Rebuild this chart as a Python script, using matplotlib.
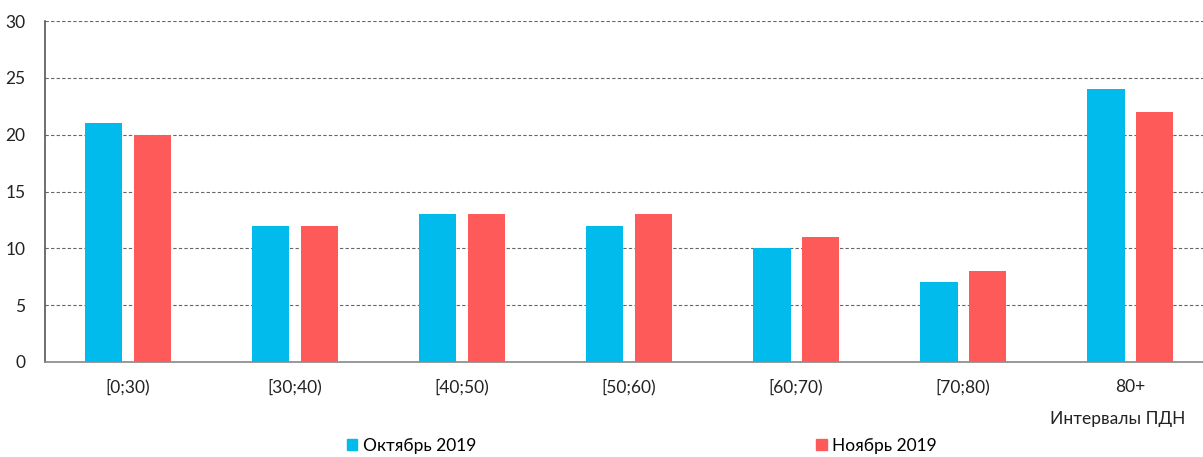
import numpy as np
import matplotlib.pyplot as plt
from matplotlib.patches import Patch

categories = ["[0;30)", "[30;40)", "[40;50)", "[50;60)", "[60;70)", "[70;80)", "80+"]
oct_values = [21, 12, 13, 12, 10, 7, 24]
nov_values = [20, 12, 13, 13, 11, 8, 22]
series_names = ["Октябрь 2019", "Ноябрь 2019"]

c_oct = "#00BBEC"
c_nov = "#FF5A5A"

plt.rcParams['font.family'] = ['Lato', 'DejaVu Sans']

fig = plt.figure(figsize=(12.03, 4.57), dpi=100)
ax = fig.add_axes([45 / 1203, 1 - 362 / 457, (1203 - 45) / 1203, 341 / 457])

x = np.arange(len(categories))
w = 0.222
ax.bar(x - 0.144, oct_values, w, color=c_oct, zorder=3)
ax.bar(x + 0.144, nov_values, w, color=c_nov, zorder=3)

ax.set_xlim(-0.497, 6.437)
ax.set_ylim(0, 30)
ax.set_yticks(range(0, 31, 5))
ax.set_xticks(x)
ax.set_xticklabels(categories)
ax.tick_params(axis='both', length=0, labelsize=12.5, colors="#222222")
ax.tick_params(axis='x', pad=12)
ax.tick_params(axis='y', pad=14)
ax.grid(axis='y', linestyle=(0, (3, 2)), color="#666666", linewidth=0.8, zorder=0)

for s in ["top", "right"]:
    ax.spines[s].set_visible(False)
ax.spines["left"].set_color("#555555")
ax.spines["bottom"].set_color("#888888")
ax.spines["left"].set_linewidth(1.2)
ax.spines["bottom"].set_linewidth(1.2)

fig.text(1185 / 1203, 1 - 419 / 457, "Интервалы ПДН", ha="right", va="center",
         fontsize=12.5, color="#222222")

handles = [Patch(color=c_oct), Patch(color=c_nov)]
fig.legend(handles, series_names, loc="center left", bbox_to_anchor=(347 / 1203, 1 - 446 / 457),
           ncol=2, frameon=False, fontsize=12.5, handlelength=0.6, handleheight=0.6,
           handletextpad=0.3, columnspacing=19.6, borderpad=0, borderaxespad=0)

fig.savefig("out.png", dpi=100)
